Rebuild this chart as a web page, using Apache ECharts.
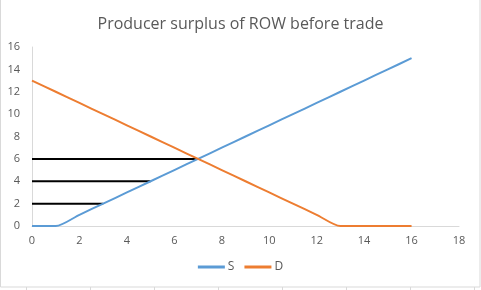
<!DOCTYPE html>
<html>
<head>
<meta charset="utf-8">
<script src="https://cdn.jsdelivr.net/npm/echarts@6/dist/echarts.min.js"></script>
<style>
  html, body { margin: 0; padding: 0; background: #fff; }
  #chart { width: 481px; height: 290px; }
</style>
</head>
<body>
<div id="chart"></div>
<script>
// quantities and prices
var quantity = [0, 1, 2, 3, 4, 5, 6, 7, 8, 9, 10, 11, 12, 13, 14, 15, 16];
var supply = [0, 0, 1, 2, 3, 4, 5, 6, 7, 8, 9, 10, 11, 12, 13, 14, 15];
var demand = [13, 12, 11, 10, 9, 8, 7, 6, 5, 4, 3, 2, 1, 0, 0, 0, 0];
// horizontal surplus lines: price level and quantity where they meet S
var surplusPrice = [2, 4, 6];
var surplusQty = [3, 5, 7];

function pairs(xs, ys) {
  return xs.map(function (x, i) { return [x, ys[i]]; });
}

var myChart = echarts.init(document.getElementById('chart'));

var series = [
  {
    name: 'S', type: 'line', data: pairs(quantity, supply),
    smooth: 0.25, showSymbol: false, z: 3,
    lineStyle: { color: '#5B9BD5', width: 2 }, itemStyle: { color: '#5B9BD5' }
  },
  {
    name: 'D', type: 'line', data: pairs(quantity, demand),
    smooth: 0.25, showSymbol: false, z: 3,
    lineStyle: { color: '#ED7D31', width: 2 }, itemStyle: { color: '#ED7D31' }
  }
];
surplusPrice.forEach(function (p, i) {
  series.push({
    name: 'ps' + i, type: 'line', data: [[0, p], [surplusQty[i], p]],
    showSymbol: false, z: 2,
    lineStyle: { color: '#000', width: 2 }
  });
});

var option = {
  animation: false,
  title: {
    text: 'Producer surplus of ROW before trade',
    left: 'center', top: 11,
    textStyle: { color: '#595959', fontSize: 16, fontWeight: 'normal', fontFamily: 'Open Sans' }
  },
  legend: {
    data: ['S', 'D'], bottom: 12, left: 'center',
    itemWidth: 27, itemHeight: 3, itemGap: 10, icon: 'rect',
    textStyle: { color: '#595959', fontSize: 12, fontFamily: 'Open Sans', padding: [0, 0, 0, -2] }
  },
  grid: { left: 32, right: 22, top: 47, bottom: 64 },
  xAxis: {
    type: 'value', min: 0, max: 18, interval: 2,
    axisLine: { show: true, lineStyle: { color: '#d9d9d9' } },
    axisTick: { show: false },
    splitLine: { show: false },
    axisLabel: { color: '#595959', fontSize: 11, margin: 9, fontFamily: 'Open Sans' }
  },
  yAxis: {
    type: 'value', min: 0, max: 16, interval: 2,
    axisLine: { show: true, lineStyle: { color: '#d9d9d9' } },
    axisTick: { show: false },
    splitLine: { show: false },
    axisLabel: { color: '#595959', fontSize: 11, margin: 12, fontFamily: 'Open Sans' }
  },
  graphic: [
    { type: 'rect', shape: { x: 0.5, y: -2, width: 479.5, height: 289 },
      style: { fill: 'none', stroke: '#d9d9d9', lineWidth: 1 }, silent: true },
    { type: 'group', silent: true, children: [26, 90, 154, 218, 282, 346, 410, 474].map(function (x) {
      return { type: 'line', shape: { x1: x + 0.5, y1: 287, x2: x + 0.5, y2: 290 },
        style: { stroke: '#d9d9d9', lineWidth: 1 } };
    }) }
  ],
  series: series
};

myChart.setOption(option, true);
</script>
</body>
</html>
